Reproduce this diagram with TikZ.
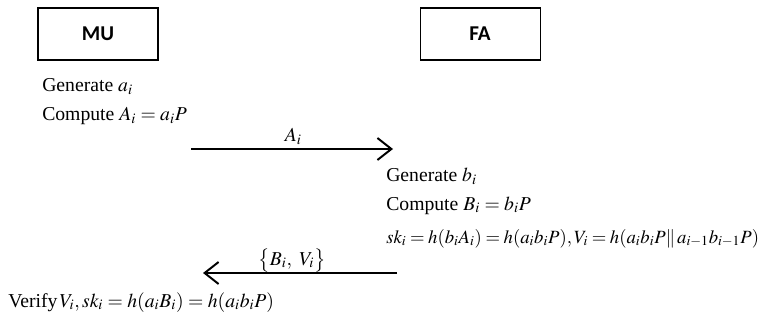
\documentclass[tikz,border=0pt]{standalone}
\usepackage{mathptmx}
\usepackage{fontspec}
\setmainfont{Liberation Serif}
\newfontfamily\boxfont{Carlito}
\usetikzlibrary{arrows.meta,positioning}

\begin{document}
\begin{tikzpicture}[
  party/.style={draw, line width=0.8pt, minimum width=3cm, minimum height=1.3cm, font=\boxfont\fontsize{15}{18}\selectfont\bfseries},
  stepline/.style={anchor=base west, inner sep=0pt, font=\fontsize{14}{17}\selectfont},
  msg/.style={-{Straight Barb[length=3.5mm, width=5.5mm, line width=1.4pt]}, line width=1.8pt},
  mlabel/.style={anchor=base, inner sep=0pt, font=\fontsize{14}{17}\selectfont}
]
  \useasboundingbox (0,0) rectangle (19.05,8.05);

  % Parties
  \node[party] (mu) at (2.45,7.2) {MU};
  \node[party, right=6.525cm of mu] (fa) {FA};

  % MU side
  \node[stepline] (gena) at (1.05,5.75) {Generate $a_i$};
  \node[stepline] (compa) at (1.05,5.025) {Compute $A_i = a_iP$};

  % FA side
  \node[stepline] (genb) at (9.65,3.5) {Generate $b_i$};
  \node[stepline] (compb) at (9.65,2.8) {Compute $B_i = b_iP$};
  \node[stepline, font=\fontsize{13.3}{16}\selectfont] (skfa) at (9.65,1.975) {\thickmuskip=3.5mu $sk_i = h(b_iA_i) = h(a_ib_iP), V_i = h(a_ib_iP\|\, a_{i-1}b_{i-1}P)$};

  % MU verifies
  \node[stepline] (verify) at (0.2,0.375) {Verify$\,V_i, sk_i = h(a_iB_i) = h(a_ib_iP)$};

  % Messages
  \coordinate (m1s) at (4.775,4.325);
  \coordinate (m1e) at (9.825,4.325);
  \coordinate (m2s) at (9.925,1.225);
  \coordinate (m2e) at (5.075,1.225);
  \draw[msg] (m1s) -- (m1e);
  \node[mlabel] (m1) at (7.33,4.5) {$A_i$};
  \draw[msg] (m2s) -- (m2e);
  \node[mlabel] (m2) at (7.3,1.425) {$\bigl\{B_i,\ V_i\bigr\}$};
\end{tikzpicture}
\end{document}
